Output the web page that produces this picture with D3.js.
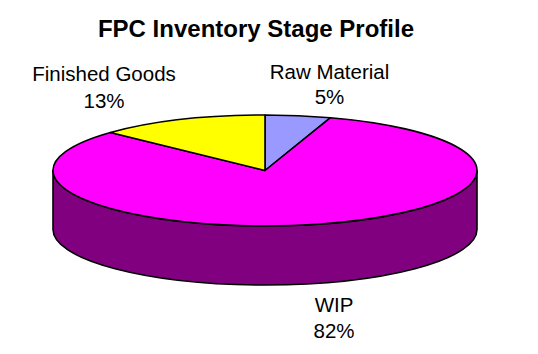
<!DOCTYPE html>
<html>
<head>
<meta charset="utf-8">
<script src="https://cdn.jsdelivr.net/npm/d3@7"></script>
<style>
  body { margin: 0; background: #fff; }
  text { font-family: "Liberation Sans", Arial, sans-serif; fill: #000; }
</style>
</head>
<body>
<div id="chart"></div>
<script>
// FPC inventory stage profile - 3D pie
const stages = ["Raw Material", "WIP", "Finished Goods"];
const shares = [5, 82, 13];
const topColors = ["#9999ff", "#ff00ff", "#ffff00"];
const sideColors = ["#4d4d80", "#800080", "#808000"];

const width = 538, height = 354;
const cx = 265, cy = 170.5, rx = 212, ry = 55.5, depth = 59;

const svg = d3.select("#chart").append("svg")
    .attr("width", width)
    .attr("height", height)
    .style("background", "#fff");

// Title
svg.append("text")
    .attr("x", 256)
    .attr("y", 37)
    .attr("text-anchor", "middle")
    .style("font-size", "24px")
    .style("font-weight", "bold")
    .text("FPC Inventory Stage Profile");

const pie = d3.pie().sort(null).value(d => d.value);
const arcs = pie(stages.map((s, i) => ({ name: s, value: shares[i], i })));

// point on the ellipse at pie angle a (0 = 12 o'clock, clockwise)
const pt = (a, dy = 0) => [cx + rx * Math.sin(a), cy - ry * Math.cos(a) + dy];

// side walls: only the front half (angles pi/2 .. 3pi/2) is visible
const sides = svg.append("g");
arcs.forEach(d => {
  const s0 = Math.max(d.startAngle, Math.PI / 2);
  const s1 = Math.min(d.endAngle, 3 * Math.PI / 2);
  if (s1 <= s0) return;
  const large = (s1 - s0) > Math.PI ? 1 : 0;
  const p0 = pt(s0), p1 = pt(s1), q1 = pt(s1, depth), q0 = pt(s0, depth);
  sides.append("path")
      .attr("d", `M${p0} A${rx},${ry} 0 ${large} 1 ${p1} L${q1} A${rx},${ry} 0 ${large} 0 ${q0} Z`)
      .attr("fill", sideColors[d.data.i])
      .attr("stroke", "#000")
      .attr("stroke-width", 1.6)
      .attr("stroke-linejoin", "round");
});

// top face
const tops = svg.append("g");
arcs.forEach(d => {
  const large = (d.endAngle - d.startAngle) > Math.PI ? 1 : 0;
  const p0 = pt(d.startAngle), p1 = pt(d.endAngle);
  tops.append("path")
      .attr("d", `M${cx},${cy} L${p0} A${rx},${ry} 0 ${large} 1 ${p1} Z`)
      .attr("fill", topColors[d.data.i])
      .attr("stroke", "#000")
      .attr("stroke-width", 1.6)
      .attr("stroke-linejoin", "round");
});

// labels
const labelPos = [[329.5, 78.5, 25], [334, 311.5, 26], [104, 81, 27]];
arcs.forEach(d => {
  const [x, y, gap] = labelPos[d.data.i];
  const t = svg.append("text")
      .attr("x", x)
      .attr("y", y)
      .attr("text-anchor", "middle")
      .style("font-size", "20.5px");
  t.append("tspan").attr("x", x).text(d.data.name);
  t.append("tspan").attr("x", x).attr("dy", gap)
      .text(Math.round(d.value / d3.sum(shares) * 100) + "%");
});
</script>
</body>
</html>
